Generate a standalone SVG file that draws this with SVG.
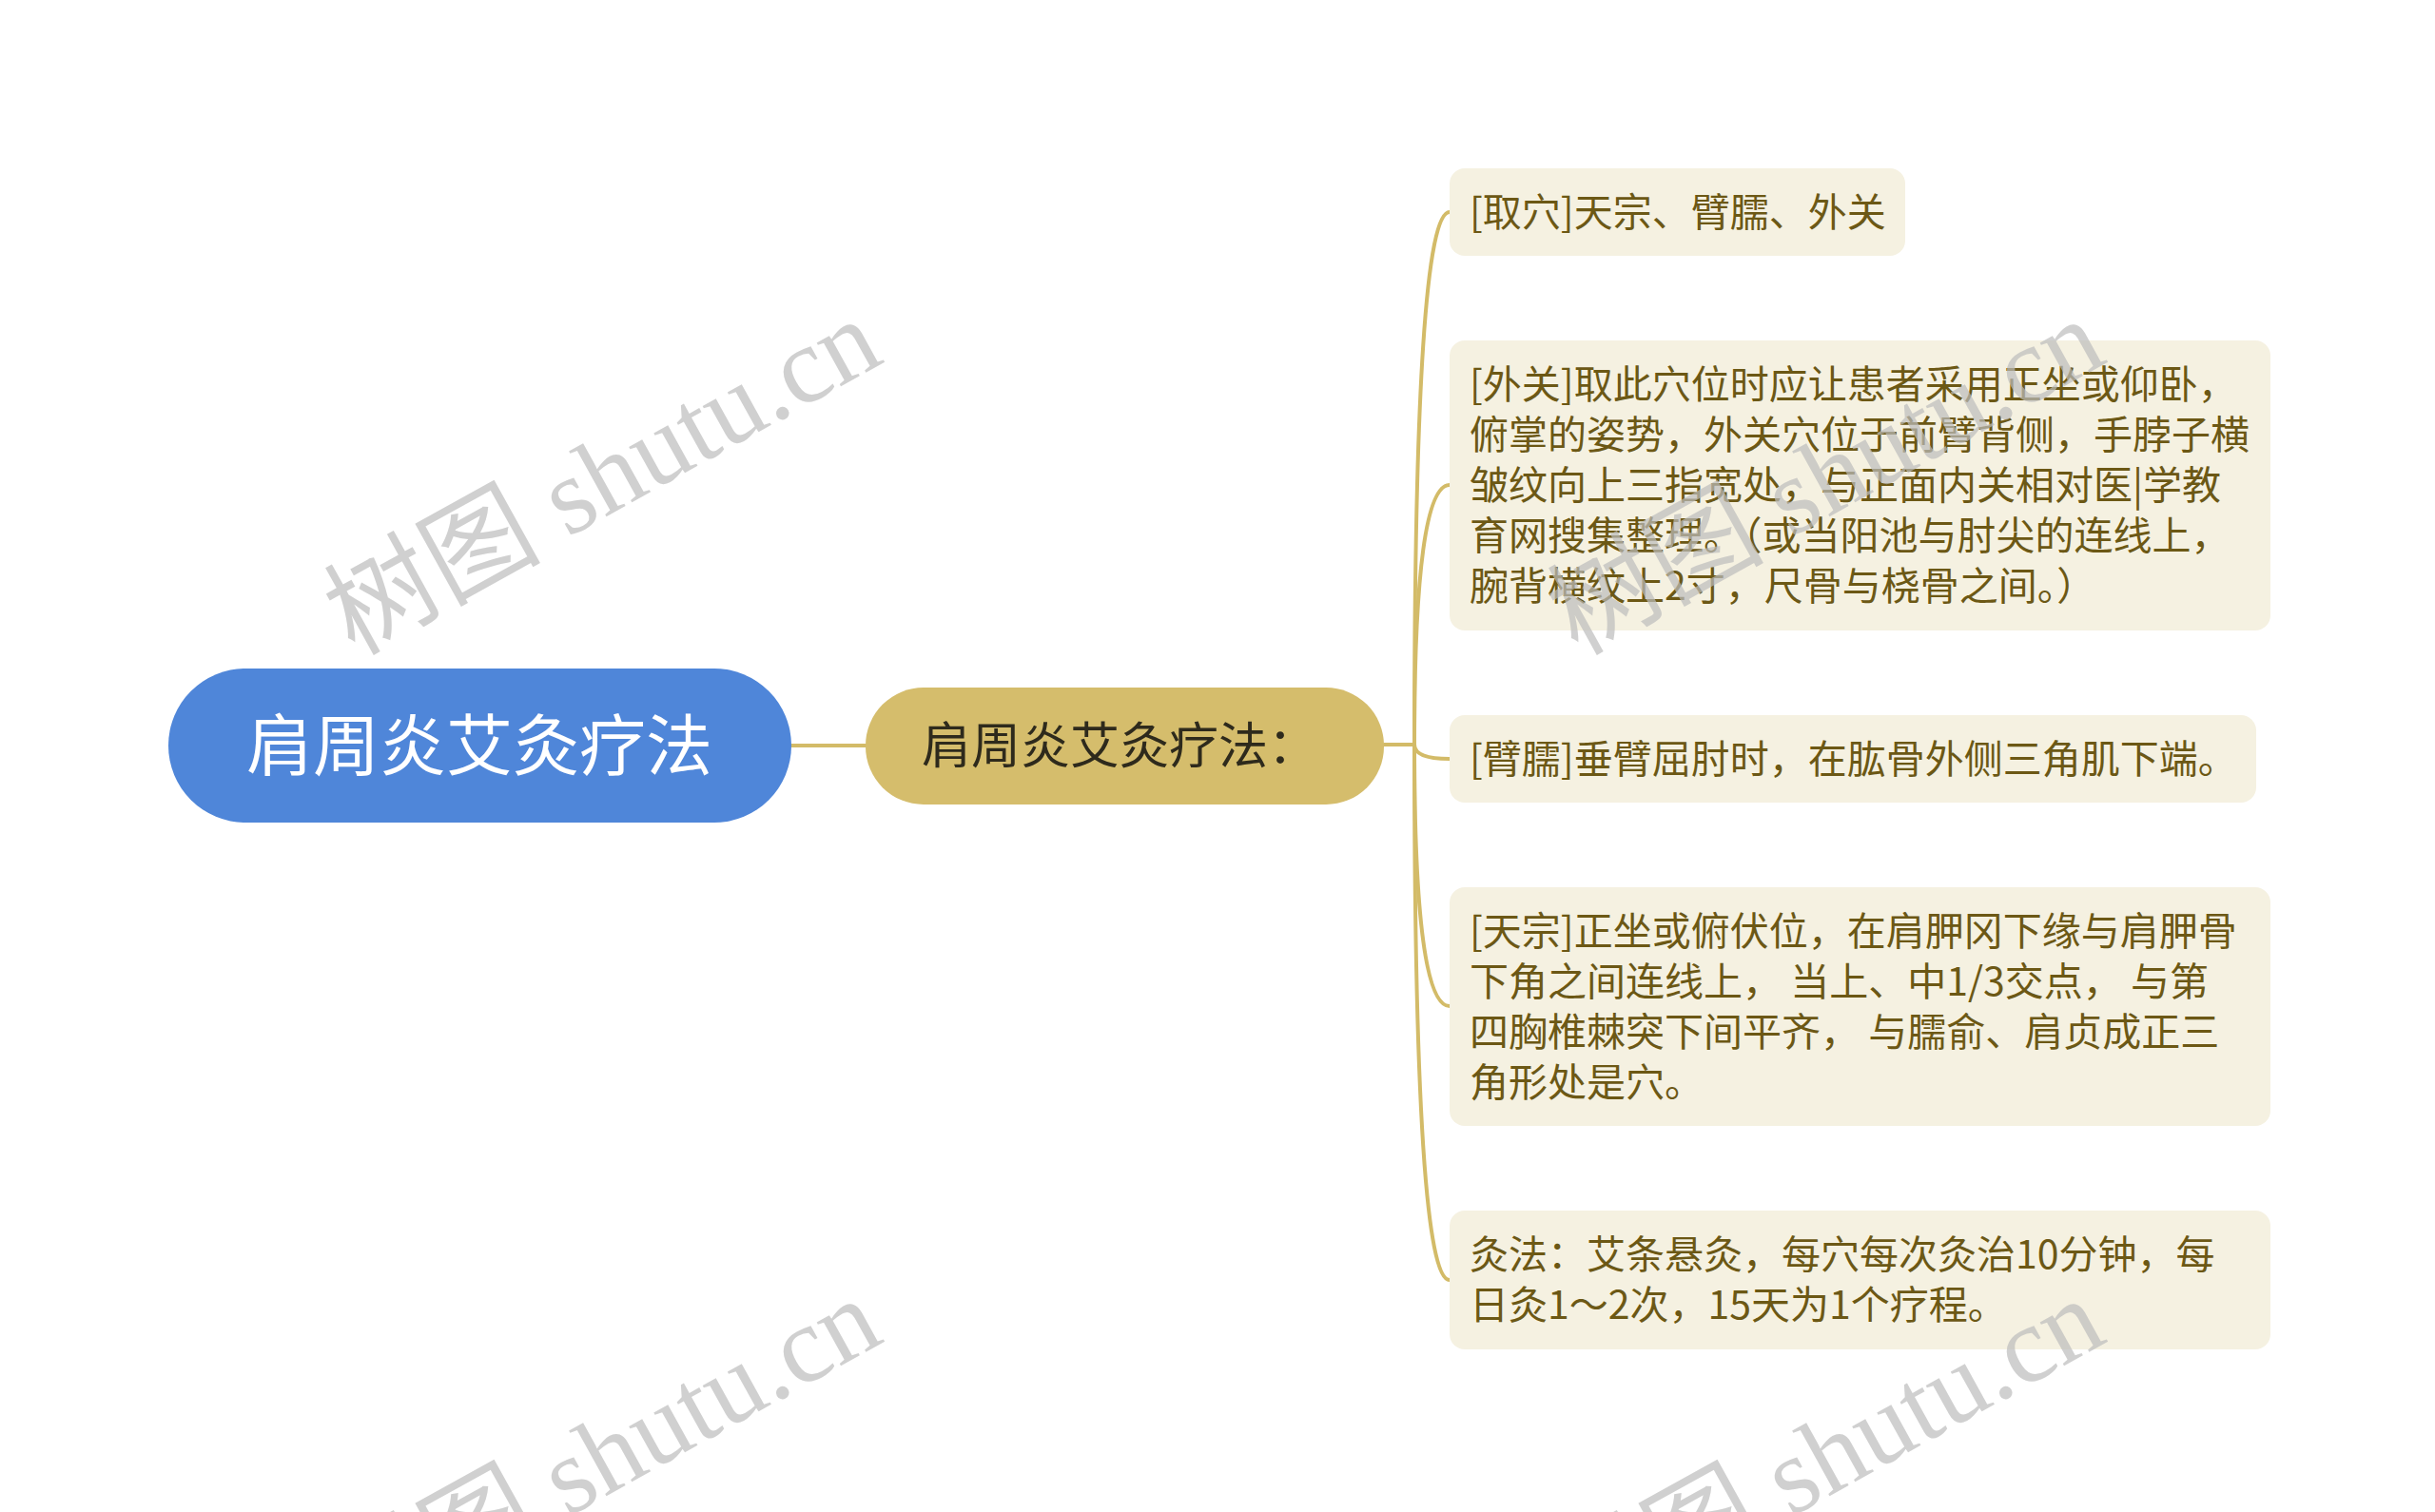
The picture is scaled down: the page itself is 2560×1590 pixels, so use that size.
<svg xmlns="http://www.w3.org/2000/svg" width="2560" height="1590" viewBox="0 0 2560 1590">
<style>
.bg{fill:#ffffff}
.root{fill:#4f86d9}
.sub{fill:#d5bd6c}
.leaf{fill:#f5f1e1}
.rt{font-family:"Noto Sans CJK SC","Noto Sans",sans-serif;font-size:70px;fill:#ffffff}
.st{font-family:"Noto Sans CJK SC","Noto Sans",sans-serif;font-size:52px;fill:#2e2a1c}
.lt{font-family:"Noto Sans CJK SC","Noto Sans",sans-serif;font-size:41px;fill:#6c5815;white-space:pre}
.conn{fill:none;stroke:#d3bb68;stroke-width:4;stroke-linecap:round}
.wm{font-family:"Liberation Serif","Noto Sans CJK SC",serif;font-size:114px;fill:#bdbdbd;opacity:0.7}
</style>
<rect class="bg" x="0" y="0" width="2560" height="1590"/>
<g id="connectors">
<path class="conn" d="M832 784 L910 784"/>
<path class="conn" d="M1455 783 L1487 783"/>
<path class="conn" d="M1487 783 Q1487 223 1524 223"/>
<path class="conn" d="M1487 783 Q1487 510 1524 510"/>
<path class="conn" d="M1487 783 Q1487 798 1524 798"/>
<path class="conn" d="M1487 783 Q1487 1058 1524 1058"/>
<path class="conn" d="M1487 783 Q1487 1346 1524 1346"/>
</g>
<g id="root">
<rect class="root" x="177" y="703" width="655" height="162" rx="81" ry="81"/>
<text class="rt" x="504" y="810" text-anchor="middle">肩周炎艾灸疗法</text>
</g>
<g id="sub">
<rect class="sub" x="910" y="723" width="545" height="123" rx="61" ry="61"/>
<text class="st" x="969" y="803">肩周炎艾灸疗法：</text>
</g>
<g id="leaf1">
<rect class="leaf" x="1524" y="177" width="479" height="92" rx="16" ry="16"/>
<text class="lt" x="1545" y="238">[取穴]天宗、臂臑、外关</text>
</g>
<g id="leaf2">
<rect class="leaf" x="1524" y="358" width="863" height="305" rx="16" ry="16"/>
<text class="lt" x="1545" y="419">[外关]取此穴位时应让患者采用正坐或仰卧，</text>
<text class="lt" x="1545" y="472">俯掌的姿势，外关穴位于前臂背侧，手脖子横</text>
<text class="lt" x="1545" y="525">皱纹向上三指宽处，与正面内关相对医|学教</text>
<text class="lt" x="1545" y="578">育网搜集整理。（或当阳池与肘尖的连线上，</text>
<text class="lt" x="1545" y="631">腕背横纹上2寸，尺骨与桡骨之间。）</text>
</g>
<g id="leaf3">
<rect class="leaf" x="1524" y="752" width="848" height="92" rx="16" ry="16"/>
<text class="lt" x="1545" y="813">[臂臑]垂臂屈肘时，在肱骨外侧三角肌下端。</text>
</g>
<g id="leaf4">
<rect class="leaf" x="1524" y="933" width="863" height="251" rx="16" ry="16"/>
<text class="lt" x="1545" y="994">[天宗]正坐或俯伏位，在肩胛冈下缘与肩胛骨</text>
<text class="lt" x="1545" y="1047" xml:space="preserve">下角之间连线上， 当上、中1/3交点， 与第</text>
<text class="lt" x="1545" y="1100" xml:space="preserve">四胸椎棘突下间平齐， 与臑俞、肩贞成正三</text>
<text class="lt" x="1545" y="1153">角形处是穴。</text>
</g>
<g id="leaf5">
<rect class="leaf" x="1524" y="1273" width="863" height="146" rx="16" ry="16"/>
<text class="lt" x="1545" y="1334">灸法：艾条悬灸，每穴每次灸治10分钟，每</text>
<text class="lt" x="1545" y="1387">日灸1～2次，15天为1个疗程。</text>
</g>
<g id="watermarks">
<text class="wm" x="652" y="535" text-anchor="middle" transform="rotate(-29 652 535)">树图 shutu.cn</text>
<text class="wm" x="1938" y="535" text-anchor="middle" transform="rotate(-29 1938 535)">树图 shutu.cn</text>
<text class="wm" x="652" y="1565" text-anchor="middle" transform="rotate(-29 652 1565)">树图 shutu.cn</text>
<text class="wm" x="1938" y="1565" text-anchor="middle" transform="rotate(-29 1938 1565)">树图 shutu.cn</text>
</g>
</svg>
